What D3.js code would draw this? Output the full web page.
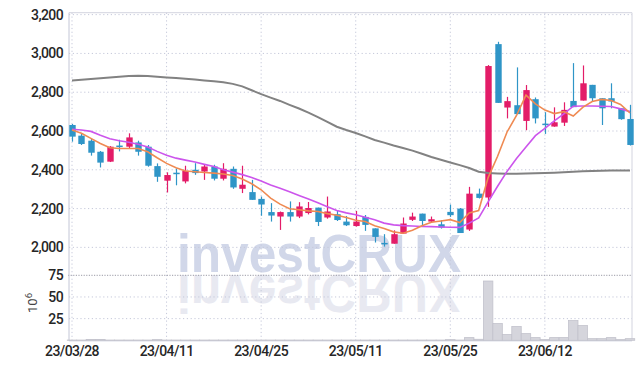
<!DOCTYPE html>
<html><head><meta charset="utf-8">
<script src="https://cdn.jsdelivr.net/npm/d3@7/dist/d3.min.js"></script>
<style>html,body{margin:0;padding:0;background:#fff;}svg{display:block;}</style>
</head><body>
<svg id="c" width="642" height="369"></svg>
<script>
const dates = ["23/03/28","23/03/29","23/03/30","23/03/31","23/04/03","23/04/04","23/04/05","23/04/06","23/04/07","23/04/10",
"23/04/11","23/04/12","23/04/13","23/04/14","23/04/17","23/04/18","23/04/19","23/04/20","23/04/21","23/04/24",
"23/04/25","23/04/26","23/04/27","23/04/28","23/05/02","23/05/03","23/05/04","23/05/08","23/05/09","23/05/10",
"23/05/11","23/05/12","23/05/15","23/05/16","23/05/17","23/05/18","23/05/19","23/05/22","23/05/23","23/05/24",
"23/05/25","23/05/26","23/05/30","23/05/31","23/06/01","23/06/02","23/06/05","23/06/07","23/06/08","23/06/09",
"23/06/12","23/06/13","23/06/14","23/06/15","23/06/16","23/06/19","23/06/20","23/06/21","23/06/22","23/06/23"];
const opens  = [2631,2576,2550,2493,2442,2525,2519,2541,2519,2419, 2344,2385,2340,2400,2391,2417,2354,2405,2302,2285,
 2250,2182,2159,2182,2159,2177,2205,2154,2171,2133, 2110,2157,2098,2023,2019,2071,2142,2174,2133,2119,
 2183,2200,2092,2277,2257,3048,2721,2733,2652,2764, 2638,2623,2643,2755,2757,2838,2769,2769,2717,2662];
const highs  = [2636,2585,2559,2497,2522,2555,2588,2550,2528,2433, 2387,2407,2421,2434,2426,2426,2434,2417,2421,2348,
 2262,2228,2185,2237,2233,2234,2205,2262,2188,2162, 2188,2167,2098,2068,2088,2154,2179,2174,2159,2140,
 2221,2203,2312,2303,2940,3060,2776,2928,2837,2773, 2697,2722,2748,2950,2938,2838,2769,2846,2717,2735];
const lows   = [2545,2528,2473,2412,2440,2495,2510,2473,2416,2338, 2283,2320,2330,2374,2348,2345,2345,2302,2280,2245,
 2163,2133,2090,2133,2151,2170,2110,2148,2136,2110, 2107,2085,2025,2004,2019,2071,2136,2110,2128,2097,
 2157,2074,2085,2252,2209,2745,2665,2687,2604,2639, 2585,2622,2626,2723,2757,2752,2631,2717,2658,2525];
const closes = [2571,2533,2488,2437,2519,2521,2567,2493,2421,2364, 2373,2382,2395,2383,2417,2354,2405,2309,2323,2245,
 2221,2164,2182,2159,2211,2203,2131,2185,2141,2114, 2133,2116,2054,2019,2068,2123,2159,2136,2145,2102,
 2166,2074,2277,2255,2935,2745,2754,2687,2811,2665, 2634,2645,2709,2723,2846,2769,2717,2752,2661,2528];
const volumes = [0.3,0.3,1.0,1.0,0.3,0.3,0.3,0.3,0.3,0.8, 0.3,0.3,0.3,0.3,0.3,0.3,0.3,0.3,0.3,0.3,
 0.3,0.3,0.3,0.3,0.3,0.3,0.3,0.3,0.3,0.3, 0.3,0.3,0.3,0.3,0.3,0.3,0.3,0.3,0.3,0.3,
 0.8,0.3,3.1,1.2,68.4,19.3,6.6,15.9,7.7,3.1, 0.8,3.1,3.1,22.8,17.0,1.9,1.9,3.1,0.8,1.9];
const ma5 = [2605,2588,2562,2536,2514,2510,2510,2510,2493,2462, 2433,2411,2394,2390,2386,2383,2378,2371,2352,2328,
 2297,2254,2223,2199,2194,2188,2185,2174,2166,2154, 2140,2133,2111,2097,2080,2073,2088,2111,2130,2136,
 2143,2128,2178,2190,2360,2470,2595,2680,2785,2740, 2708,2690,2700,2677,2722,2752,2763,2757,2737,2693];
const ma20 = [2609,2605,2598,2578,2560,2550,2542,2532,2517,2495, 2475,2460,2450,2440,2428,2417,2400,2388,2375,2360,
 2342,2322,2305,2287,2268,2250,2230,2210,2190,2178, 2168,2155,2142,2125,2116,2112,2110,2108,2107,2105,
 2104,2103,2125,2152,2235,2315,2392,2458,2518,2576, 2614,2652,2688,2728,2729,2729,2728,2726,2714,2700];
const ma120 = [2860,2864,2868,2872,2876,2880,2884,2885,2884,2880, 2876,2873,2870,2866,2861,2856,2851,2843,2830,2810,
 2790,2772,2755,2735,2716,2695,2672,2647,2622,2605, 2590,2572,2554,2540,2525,2512,2499,2483,2466,2452,
 2438,2424,2409,2390,2383,2381,2380,2380,2381,2382, 2383,2385,2387,2390,2392,2394,2395,2396,2397,2397];
const priceTicks = [2000,2200,2400,2600,2800,3000,3200];
const volTicks = [25,50,75];
const dateTicks = ["23/03/28","23/04/11","23/04/25","23/05/11","23/05/25","23/06/12"];

const svg = d3.select("#c");
const L = 69, R = 632, T = 12.7, SEP = 275.3, B = 340.3;
const x = d3.scalePoint().domain(dates).range([72, 630]);
const step = x.step();
const y = d3.scaleLinear().domain([1856, 3210]).range([SEP, T]);
const yv = d3.scaleLinear().domain([0, 75]).range([B, SEP]);

const RED = "#e31c68", BLUE = "#2f95c7";
const gridCol = "#c5c8da";

// watermark
const wm = svg.append("g");
wm.append("text").attr("x", 177).attr("y", 272).attr("textLength", 284).attr("lengthAdjust","spacingAndGlyphs")
  .attr("font-family","Liberation Sans, Arial, sans-serif").attr("font-weight","bold").attr("font-size",53.5)
  .attr("fill","#d1d7e9").text("investCRUX");
wm.append("text").attr("x", 177).attr("y", 272).attr("textLength", 284).attr("lengthAdjust","spacingAndGlyphs")
  .attr("transform","translate(0,547) scale(1,-1)")
  .attr("font-family","Liberation Sans, Arial, sans-serif").attr("font-weight","bold").attr("font-size",53.5)
  .attr("fill","#e8e9f1").text("investCRUX");

// grid
const g = svg.append("g");
g.selectAll(".hp").data(priceTicks).join("line")
  .attr("x1", L).attr("x2", R).attr("y1", d => y(d)).attr("y2", d => y(d))
  .attr("stroke", gridCol).attr("stroke-dasharray","1.2,2.6");
g.selectAll(".hv").data(volTicks.filter(d => d < 75)).join("line")
  .attr("x1", L).attr("x2", R).attr("y1", d => yv(d)).attr("y2", d => yv(d))
  .attr("stroke", gridCol).attr("stroke-dasharray","1.2,2.6");
g.selectAll(".vx").data(dateTicks).join("line")
  .attr("x1", d => x(d)).attr("x2", d => x(d)).attr("y1", T).attr("y2", B)
  .attr("stroke", gridCol).attr("stroke-dasharray","1.2,2.6");
// separator
g.append("line").attr("x1", L-1).attr("x2", R).attr("y1", SEP).attr("y2", SEP)
  .attr("stroke","#9a9aa6").attr("stroke-dasharray","1.2,1.4");
// frame
g.append("line").attr("x1", L).attr("x2", R).attr("y1", T).attr("y2", T).attr("stroke","#d3d4df");
g.append("line").attr("x1", R).attr("x2", R).attr("y1", T).attr("y2", B).attr("stroke","#d3d4df");
g.append("line").attr("x1", L).attr("x2", L).attr("y1", T).attr("y2", B+0.5).attr("stroke","#c3c6d6");
g.append("line").attr("x1", L).attr("x2", R).attr("y1", B+0.5).attr("y2", B+0.5).attr("stroke","#c3c6d6");

// volume bars
svg.append("g").selectAll("rect").data(dates).join("rect")
  .attr("x", d => x(d) - step/2).attr("width", step)
  .attr("y", (d,i) => yv(volumes[i])).attr("height", (d,i) => B - yv(volumes[i]))
  .attr("fill","#d5d5dc").attr("stroke","#c2c2cc").attr("stroke-width",0.8);

// candles
const cg = svg.append("g");
const col = i => closes[i] >= opens[i] ? RED : BLUE;
cg.selectAll(".w").data(dates).join("line")
  .attr("x1", d => Math.round(x(d))+0.5).attr("x2", d => Math.round(x(d))+0.5)
  .attr("y1", (d,i) => y(highs[i])).attr("y2", (d,i) => y(lows[i]))
  .attr("stroke", (d,i) => col(i)).attr("stroke-width",1.2);
cg.selectAll(".b").data(dates).join("rect")
  .attr("x", d => Math.round(x(d))+0.5 - 3.2).attr("width", 6.4)
  .attr("y", (d,i) => y(Math.max(opens[i], closes[i])))
  .attr("height", (d,i) => Math.max(1.5, Math.abs(y(opens[i]) - y(closes[i]))))
  .attr("fill", (d,i) => col(i));

// moving averages
const line = arr => d3.line().x(d => x(d)).y((d,i) => y(arr[i]))(dates);
svg.append("path").attr("d", line(ma120)).attr("fill","none").attr("stroke","#828282").attr("stroke-width",2);
svg.append("path").attr("d", line(ma20)).attr("fill","none").attr("stroke","#cc55ec").attr("stroke-width",1.6);
svg.append("path").attr("d", line(ma5)).attr("fill","none").attr("stroke","#ef8a52").attr("stroke-width",1.6);

// axes labels
const fmt = d3.format(",");
const lab = svg.append("g").attr("font-family","Roboto, sans-serif").attr("font-size",14)
  .attr("font-weight",500).attr("fill","#262626").attr("letter-spacing","-0.6");
lab.selectAll(".py").data(priceTicks).join("text")
  .attr("x", 63).attr("y", d => y(d) + 5).attr("text-anchor","end").text(d => fmt(d));
lab.selectAll(".vy").data(volTicks).join("text")
  .attr("x", 63).attr("y", d => yv(d) + 5).attr("text-anchor","end").text(d => d);
lab.selectAll(".dx").data(dateTicks).join("text")
  .attr("x", d => x(d)).attr("y", 356).attr("text-anchor","middle").text(d => d);

const unit = svg.append("text").attr("transform","translate(37,303) rotate(-90)")
  .attr("font-family","Roboto, sans-serif").attr("font-size",13).attr("fill","#444").attr("text-anchor","middle");
unit.append("tspan").text("10");
unit.append("tspan").attr("dy",-5).attr("font-size",9.5).text("6");
</script>
</body></html>
